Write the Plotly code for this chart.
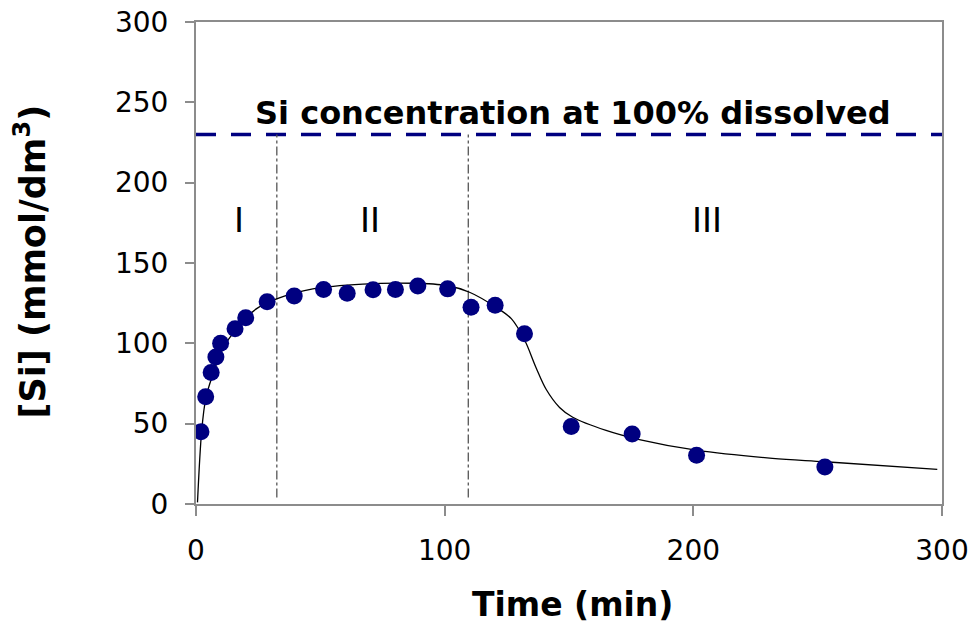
import plotly.graph_objects as go

# measured data points
time_pts = [2.0, 3.9, 6.1, 8.0, 9.9, 15.7, 20.0, 28.6, 39.5, 51.3, 60.8, 71.2, 80.2,
            89.2, 101.2, 110.6, 120.3, 132.1, 150.9, 175.4, 201.3, 252.9]
si_pts = [45.0, 66.7, 81.9, 91.5, 100.1, 109.1, 115.9, 125.9, 129.4, 133.5, 131.2, 133.3,
          133.5, 135.7, 133.9, 122.4, 123.7, 106.0, 48.2, 43.5, 30.4, 23.0]

# fitted curve
fit_t = [0.6, 2.3, 4.0, 6.3, 10.3, 16.3, 24.4, 32.4, 47.0, 67.1, 87.1, 100.7, 110.0,
         120.8, 126.8, 132.1, 136.8, 140.8, 146.2, 151.5, 164.9, 178.3, 201.1, 231.8,
         252.9, 298.1]
fit_si = [1.0, 45.8, 66.3, 78.5, 95.0, 109.3, 121.6, 127.7, 133.9, 136.9, 137.4, 136.0,
          131.8, 122.3, 115.4, 102.2, 84.7, 71.4, 60.1, 54.0, 45.8, 40.1, 33.5, 28.4,
          26.3, 21.6]

full_dissolved = 230
stage_bounds = [32.5, 109.5]
stage_labels = ["I", "II", "III"]
stage_label_x = [17.3, 70, 205.4]
stage_label_y = 176.5

x_ticks = [0, 100, 200, 300]
y_ticks = [0, 50, 100, 150, 200, 250, 300]

FONT = "DejaVu Sans"

fig = go.Figure()

# 100% dissolved line
fig.add_trace(go.Scatter(x=[0, 300], y=[full_dissolved, full_dissolved], mode="lines",
                         line=dict(color="#000080", width=3.5, dash="20px,15px"),
                         hoverinfo="skip", showlegend=False))

# stage boundaries
for b in stage_bounds:
    fig.add_trace(go.Scatter(x=[b, b], y=[4, full_dissolved], mode="lines",
                             line=dict(color="#555555", width=1.3, dash="dashdot"),
                             hoverinfo="skip", showlegend=False))

# fitted curve
fig.add_trace(go.Scatter(x=fit_t, y=fit_si, mode="lines",
                         line=dict(color="black", width=1.3, shape="spline", smoothing=0.9),
                         showlegend=False))

# data
fig.add_trace(go.Scatter(x=time_pts, y=si_pts, mode="markers",
                         marker=dict(color="#000080", size=17, line=dict(width=0)),
                         showlegend=False))

for lab, lx in zip(stage_labels, stage_label_x):
    fig.add_annotation(x=lx, y=stage_label_y, text=lab, showarrow=False,
                       font=dict(family=FONT, size=34, color="black"))

fig.add_annotation(x=151.8, y=full_dissolved, yshift=21,
                   text="<b>Si concentration at 100% dissolved</b>",
                   showarrow=False, font=dict(family=FONT, size=32, color="black"))

fig.add_annotation(xref="paper", yref="paper", x=0.505, y=-0.208, xanchor="center",
                   yanchor="middle", text="<b>Time (min)</b>",
                   showarrow=False, font=dict(family=FONT, size=33, color="black"))
fig.add_annotation(xref="paper", yref="paper", x=-0.222, y=0.504, xanchor="center",
                   yanchor="middle", textangle=-90,
                   text="<b>[Si] (mmol/dm<sup>3</sup>)</b>",
                   showarrow=False, font=dict(family=FONT, size=35, color="black"))

axis_common = dict(showgrid=False, zeroline=False, showline=True, linecolor="#8c8c8c",
                   linewidth=2, mirror=True, ticks="outside", tickcolor="#8c8c8c",
                   tickwidth=2, automargin=False,
                   tickfont=dict(family=FONT, size=28, color="black"))

fig.update_xaxes(range=[0, 300], tickvals=x_ticks, ticklen=10, ticklabelstandoff=10,
                 **axis_common)
fig.update_yaxes(range=[0, 300], tickvals=y_ticks, ticklen=9, ticklabelstandoff=11,
                 **axis_common)

fig.update_layout(width=977, height=628, margin=dict(l=196, r=35, t=22, b=124),
                  plot_bgcolor="white", paper_bgcolor="white",
                  font=dict(family=FONT))

fig.write_html("out.html")
